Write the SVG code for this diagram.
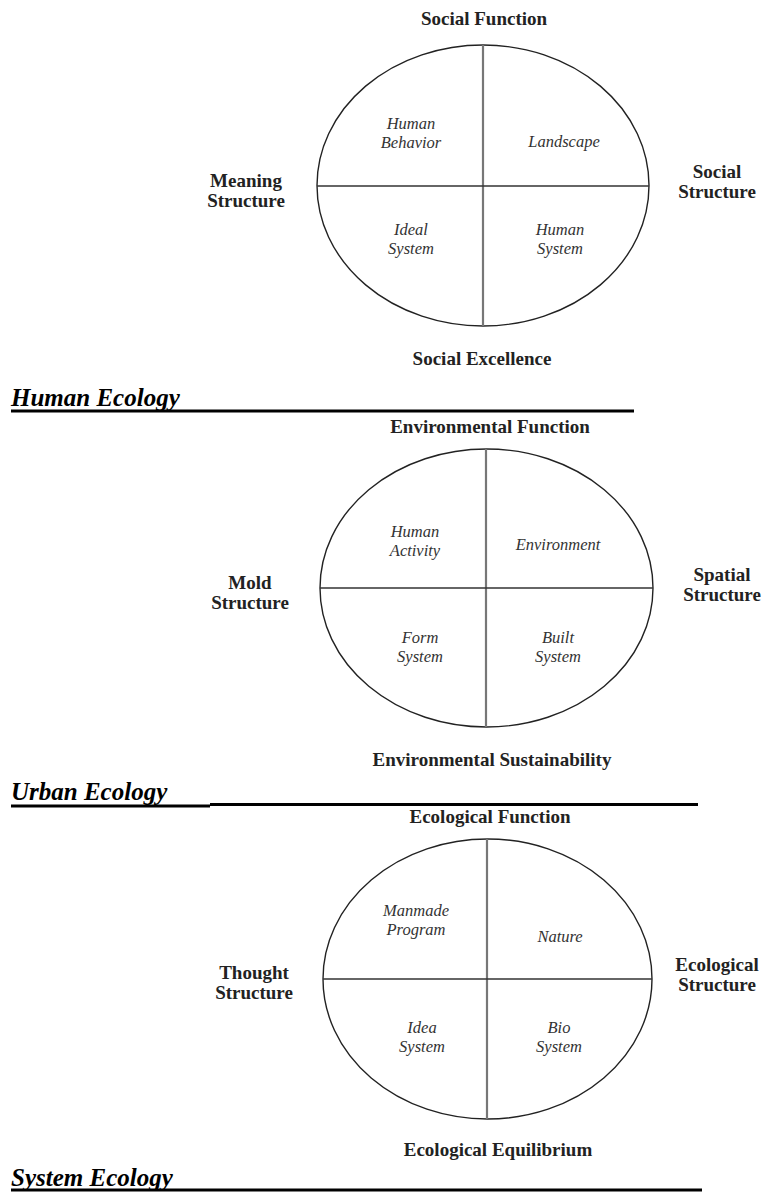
<svg xmlns="http://www.w3.org/2000/svg" width="763" height="1193" viewBox="0 0 763 1193">
<style>
.bg{fill:#fff}
.ell{fill:none;stroke:#222;stroke-width:1.4}
.vl{stroke:#777;stroke-width:2.2}
.hl{stroke:#333;stroke-width:1.6}
.ax{font-family:"Liberation Serif",serif;font-weight:bold;font-size:19px;fill:#222;text-anchor:middle}
.q{font-family:"Liberation Serif",serif;font-style:italic;font-size:16.5px;fill:#333;text-anchor:middle}
.tt{font-family:"Liberation Serif",serif;font-style:italic;font-weight:bold;font-size:25px;fill:#000}
.ul{stroke:#000;stroke-width:3}
</style>
<rect class="bg" x="0" y="0" width="763" height="1193"/>

<!-- Diagram 1: Human Ecology -->
<g id="d1">
  <g id="d1-ellipse"><ellipse class="ell" cx="483" cy="185.5" rx="166" ry="140.5"/></g>
  <g id="d1-connectors">
    <line class="vl" x1="483" y1="45" x2="483" y2="326"/>
    <line class="hl" x1="317" y1="186" x2="649" y2="186"/>
  </g>
  <g id="d1-top"><text class="ax" x="484" y="25">Social Function</text></g>
  <g id="d1-bottom"><text class="ax" x="482" y="365">Social Excellence</text></g>
  <g id="d1-left"><text class="ax" x="246" y="187">Meaning</text><text class="ax" x="246" y="207">Structure</text></g>
  <g id="d1-right"><text class="ax" x="717" y="178">Social</text><text class="ax" x="717" y="198">Structure</text></g>
  <g id="d1-q1"><text class="q" x="411" y="129">Human</text><text class="q" x="411" y="148">Behavior</text></g>
  <g id="d1-q2"><text class="q" x="564" y="147">Landscape</text></g>
  <g id="d1-q3"><text class="q" x="411" y="235">Ideal</text><text class="q" x="411" y="254">System</text></g>
  <g id="d1-q4"><text class="q" x="560" y="235">Human</text><text class="q" x="560" y="254">System</text></g>
  <g id="d1-title"><text class="tt" x="11" y="406">Human Ecology</text><line class="ul" x1="11" y1="411" x2="634" y2="411"/></g>
</g>

<!-- Diagram 2: Urban Ecology -->
<g id="d2">
  <g id="d2-ellipse"><ellipse class="ell" cx="486.5" cy="588" rx="166.5" ry="139"/></g>
  <g id="d2-connectors">
    <line class="vl" x1="486" y1="449" x2="486" y2="727"/>
    <line class="hl" x1="320" y1="588" x2="653" y2="588"/>
  </g>
  <g id="d2-top"><text class="ax" x="490" y="433">Environmental Function</text></g>
  <g id="d2-bottom"><text class="ax" x="492" y="766">Environmental Sustainability</text></g>
  <g id="d2-left"><text class="ax" x="250" y="589">Mold</text><text class="ax" x="250" y="609">Structure</text></g>
  <g id="d2-right"><text class="ax" x="722" y="581">Spatial</text><text class="ax" x="722" y="601">Structure</text></g>
  <g id="d2-q1"><text class="q" x="415" y="537">Human</text><text class="q" x="415" y="556">Activity</text></g>
  <g id="d2-q2"><text class="q" x="558" y="550">Environment</text></g>
  <g id="d2-q3"><text class="q" x="420" y="643">Form</text><text class="q" x="420" y="662">System</text></g>
  <g id="d2-q4"><text class="q" x="558" y="643">Built</text><text class="q" x="558" y="662">System</text></g>
  <g id="d2-title"><text class="tt" x="11" y="800">Urban Ecology</text><line class="ul" x1="11" y1="806" x2="210" y2="806"/><line class="ul" x1="210" y1="804.5" x2="698" y2="804.5"/></g>
</g>

<!-- Diagram 3: System Ecology -->
<g id="d3">
  <g id="d3-ellipse"><ellipse class="ell" cx="487.5" cy="979" rx="164.5" ry="140"/></g>
  <g id="d3-connectors">
    <line class="vl" x1="487" y1="839" x2="487" y2="1119"/>
    <line class="hl" x1="323" y1="979" x2="652" y2="979"/>
  </g>
  <g id="d3-top"><text class="ax" x="490" y="823">Ecological Function</text></g>
  <g id="d3-bottom"><text class="ax" x="498" y="1156">Ecological Equilibrium</text></g>
  <g id="d3-left"><text class="ax" x="254" y="979">Thought</text><text class="ax" x="254" y="999">Structure</text></g>
  <g id="d3-right"><text class="ax" x="717" y="971">Ecological</text><text class="ax" x="717" y="991">Structure</text></g>
  <g id="d3-q1"><text class="q" x="416" y="916">Manmade</text><text class="q" x="416" y="935">Program</text></g>
  <g id="d3-q2"><text class="q" x="560" y="942">Nature</text></g>
  <g id="d3-q3"><text class="q" x="422" y="1033">Idea</text><text class="q" x="422" y="1052">System</text></g>
  <g id="d3-q4"><text class="q" x="559" y="1033">Bio</text><text class="q" x="559" y="1052">System</text></g>
  <g id="d3-title"><text class="tt" x="11" y="1186">System Ecology</text><line class="ul" x1="11" y1="1190" x2="702" y2="1190"/></g>
</g>
</svg>
